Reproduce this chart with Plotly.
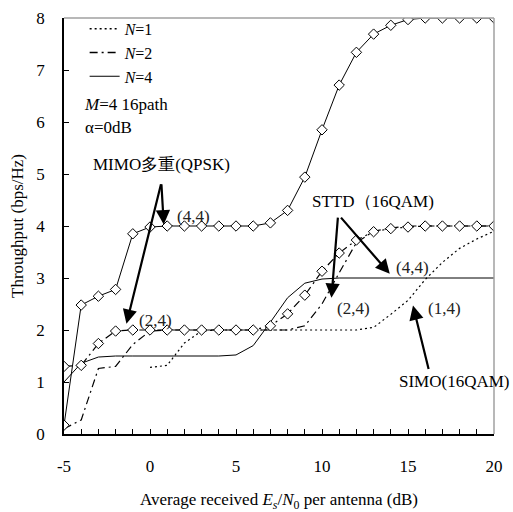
import plotly.graph_objects as go

# ---- data ----
x_full = list(range(-5, 21))
y_mimo44 = [0.17, 2.48, 2.65, 2.78, 3.85, 3.98, 4.0, 4.0, 4.0, 4.0, 4.0, 4.0, 4.06,
            4.30, 4.94, 5.85, 6.71, 7.34, 7.69, 7.86, 7.97, 8.0, 8.0, 8.0, 8.0, 8.0]
y_mimo24 = [1.30, 1.32, 1.74, 1.98, 2.0, 2.0, 2.0, 2.0, 2.0, 2.0, 2.0, 2.0, 2.08,
            2.31, 2.67, 3.13, 3.48, 3.73, 3.89, 3.95, 3.98, 4.0, 4.0, 4.0, 4.0, 4.0]
y_sttd44 = [1.0, 1.36, 1.48, 1.5, 1.5, 1.5, 1.5, 1.5, 1.5, 1.5, 1.52, 1.70, 2.15,
            2.62, 2.90, 2.98, 3.0, 3.0, 3.0, 3.0, 3.0, 3.0, 3.0, 3.0, 3.0, 3.0]
y_sttd24 = [0.10, 0.27, 1.26, 1.30, 1.72, 1.98, 2.0, 2.0, 2.0, 2.0, 2.0, 2.0, 2.0,
            2.0, 2.08, 2.5, 3.1, 3.68, 3.9, 3.96, 4.0, 4.0, 4.0, 4.0, 4.0, 4.0]
x_simo = list(range(0, 21))
y_simo14 = [1.28, 1.32, 1.75, 1.98, 2.0, 2.0, 2.0, 2.0, 2.0, 2.0, 2.0, 2.0, 2.0,
            2.05, 2.3, 2.57, 2.97, 3.3, 3.57, 3.75, 3.9]

legend_names = ["<i>N</i>=1", "<i>N</i>=2", "<i>N</i>=4"]
x_ticks = [-5, 0, 5, 10, 15, 20]
x_ticktext = ["-5", "0", "5", "10", "15", "20"]
y_ticks = list(range(0, 9))

FONT = "Liberation Serif"
DOT = "2px,3px"
DASHDOT = "8px,4px,2px,4px"

fig = go.Figure()

diamond = dict(symbol="diamond", size=8, color="white", line=dict(color="black", width=1))

# data curves
fig.add_trace(go.Scatter(x=x_simo, y=y_simo14, mode="lines", showlegend=False,
                         line=dict(color="black", width=1.2, dash=DOT)))
fig.add_trace(go.Scatter(x=x_full, y=y_sttd24, mode="lines", showlegend=False,
                         line=dict(color="black", width=1.2, dash=DASHDOT)))
fig.add_trace(go.Scatter(x=x_full, y=y_sttd44, mode="lines", showlegend=False,
                         line=dict(color="black", width=1)))
fig.add_trace(go.Scatter(x=x_full, y=y_mimo24, mode="lines+markers", showlegend=False,
                         line=dict(color="black", width=1.2, dash=DASHDOT), marker=diamond))
fig.add_trace(go.Scatter(x=x_full, y=y_mimo44, mode="lines+markers", showlegend=False,
                         line=dict(color="black", width=1), marker=diamond))

# legend entries
for name, dash, w in zip(legend_names, [DOT, DASHDOT, "solid"], [1.5, 1.5, 1]):
    fig.add_trace(go.Scatter(x=[None], y=[None], mode="lines", name=name,
                             line=dict(color="black", width=w, dash=dash)))

ann = []
def text(x, y, s, xanchor="left", xref="x", yref="y", color="#222"):
    ann.append(dict(x=x, y=y, xref=xref, yref=yref, text=s, showarrow=False,
                    xanchor=xanchor, yanchor="middle", font=dict(size=17, color=color, family=FONT)))

def arrow(x, y, ax, ay):
    ann.append(dict(x=x, y=y, ax=ax, ay=ay, xref="x", yref="y", axref="x", ayref="y",
                    text="", showarrow=True, arrowhead=2, arrowsize=1.3, arrowwidth=2.2,
                    arrowcolor="black", standoff=0))

text(-3.41, 5.18, "MIMO多重(QPSK)", color="black")
text(1.44, 4.19, "(4,4)")
text(-0.76, 2.19, "(2,4)")
text(9.28, 4.48, "STTD（16QAM)", color="black")
text(14.17, 3.20, "(4,4)")
text(10.74, 2.41, "(2,4)")
text(16.03, 2.41, "(1,4)")
text(14.38, 1.01, "SIMO(16QAM)", color="black")
text(0.043, (434 - 103) / 418, "<i>M</i>=4 16path", xref="paper", yref="paper", color="black")
text(0.045, (434 - 126) / 418, "α=0dB", xref="paper", yref="paper", color="black")

arrow(0.80, 4.03, 0.66, 4.83)
arrow(-1.37, 2.12, 0.66, 4.83)
arrow(10.55, 2.62, 10.93, 4.19)
arrow(13.94, 3.08, 11.03, 4.19)
arrow(15.29, 2.47, 16.22, 1.22)

fig.update_layout(
    width=513, height=512,
    margin=dict(l=64, r=19, t=16, b=78),
    paper_bgcolor="white", plot_bgcolor="white",
    font=dict(family=FONT, size=17, color="black"),
    annotations=ann,
    legend=dict(x=0.048, y=1.015, xanchor="left", yanchor="top",
                bgcolor="rgba(0,0,0,0)", font=dict(size=16, family=FONT),
                itemwidth=30, tracegroupgap=0),
    shapes=[
        dict(type="line", xref="paper", yref="paper", x0=0, x1=1, y0=1, y1=1,
             line=dict(color="#a0a0a0", width=1.5)),
        dict(type="line", xref="paper", yref="paper", x0=1, x1=1, y0=0, y1=1,
             line=dict(color="#a0a0a0", width=1.5)),
    ],
)
fig.update_xaxes(range=[-5, 20], tickvals=x_ticks, ticktext=x_ticktext, ticks="inside", ticklen=5,
                 tickcolor="black", showline=True, linecolor="black", linewidth=1.5,
                 showgrid=False, zeroline=False, ticklabelstandoff=16, automargin=False,
                 minor=dict(dtick=1, ticks="inside", ticklen=5, tickcolor="black"),
                 title=dict(text="Average received <i>E<sub>s</sub></i>/<i>N</i><sub>0</sub> per antenna (dB)",
                            font=dict(size=17), standoff=20))
fig.update_yaxes(range=[0, 8], tickvals=y_ticks, ticks="inside", ticklen=5,
                 tickcolor="black", showline=True, linecolor="black", linewidth=1.5,
                 showgrid=False, zeroline=False, ticklabelstandoff=14, automargin=False,
                 title=dict(text="Throughput (bps/Hz)", font=dict(size=17), standoff=8))

fig.write_html("out.html")
